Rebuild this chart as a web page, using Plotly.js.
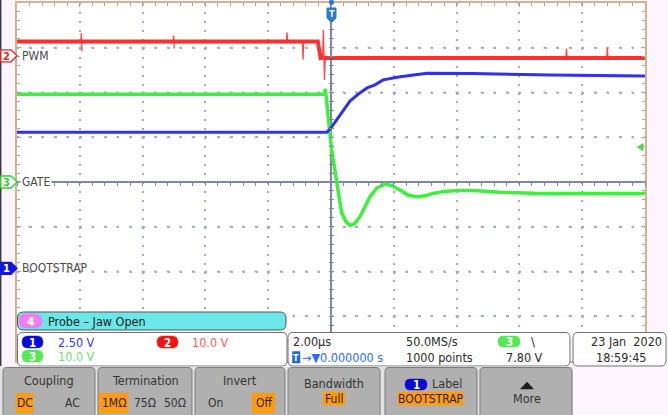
<!DOCTYPE html>
<html><head><meta charset="utf-8">
<script src="https://cdn.plot.ly/plotly-3.0.1.min.js"></script>
<style>html,body{margin:0;padding:0;background:#fdf5fd;} #chart{width:668px;height:415px;}</style>
</head><body><div id="chart"></div>
<script>
// ---- data (time in µs, values in volts) ----
const bootT = [-10, -0.13, 0.0, 0.29, 0.61, 0.92, 1.15, 1.4, 1.66, 2.2, 3.06, 4.5, 7.0, 10];
const bootV = [7.6, 7.6, 7.85, 8.6, 9.36, 9.8, 10.08, 10.25, 10.53, 10.7, 10.9, 10.88, 10.8, 10.75];

const pwmT = [-10, -0.42, -0.33, -0.26, -0.16, 10];
const pwmV = [3.2, 3.2, -0.5, -0.4, -0.5, -0.5];
// narrow glitches on the PWM trace (null separates each one)
const pwmSpikeT = [-7.97, -7.95, -7.93, null, -5.03, -5.01, -4.99, null, -1.42, -1.4, -1.38, null, -0.91, -0.89, -0.87, null, -0.27, -0.24, -0.21, -0.18, null, 7.48, 7.5, 7.52, null, 8.78, 8.8, 8.82];
const pwmSpikeV = [3.2, 5.1, 1.0, null, 3.2, 4.5, 1.6, null, 3.2, 5.2, 3.2, null, 3.2, -0.9, 3.2, null, -0.4, 5.8, -5.4, -0.5, null, -0.5, 1.6, -0.5, null, -0.5, 1.8, -0.5];

const gateT = [-10, -0.22, -0.18, 0.02, 0.18, 0.34, 0.48, 0.61, 0.76, 0.92, 1.24, 1.46, 1.72, 1.94, 2.2, 2.45, 2.74, 3.03, 3.25, 3.6, 4.0, 4.55, 5.38, 6.46, 10];
const gateV = [19.6, 19.6, 20.8, 7.2, 0.1, -6.9, -8.9, -9.7, -9.3, -7.8, -3.3, -1.35, -0.45, -0.8, -1.8, -2.9, -3.3, -3.0, -2.55, -2.1, -1.9, -1.9, -2.3, -2.5, -2.55];

const channelNames = ['BOOTSTRAP', 'PWM', 'GATE'];
const channelScales = [2.50, 10.0, 10.0];   // V/div
const timePerDiv = 2.00;                    // µs/div
const triggerLevel = 7.80;                  // V on channel 3

// ---- geometry ----
const L=17, R=23, T=3, B=54, W=668-L-R, H=415-T-B;
const fx = x => (x-L)/W, fy = y => 1-(y-T)/H;
const P = (x,y) => fx(x).toFixed(5)+','+fy(y).toFixed(5);
const divPx = H/8, cy = T+H/2;
const offDiv = [-1.93, 2.82, 0];          // ground offsets in divisions (ch1, ch2, ch3)
const rangeFor = i => [(-4-offDiv[i])*channelScales[i], (4-offDiv[i])*channelScales[i]];
const groundPx = i => cy - offDiv[i]*divPx;

const F = "'DejaVu Sans Condensed', 'Liberation Sans Narrow', 'DejaVu Sans', sans-serif";
const gridCol='#a4aac3', tickCol='#9aa1bd', centerCol='#7f87a8', frameCol='#d9b08c';
const hDash = '2px,10.56px', vDash = '2px,6.95px';

// graticule dots along the horizontal division lines (one dot per minor division)
const gridDotX = [], gridDotY = [];
for(let k=-3;k<=3;k++){ if(k===0) continue;
  for(let j=0;j<=50;j++){ gridDotX.push(-5*timePerDiv + j*timePerDiv/5); gridDotY.push(k*channelScales[2]); }
}

function rr(x0,y0,x1,y1,r,topOnly){
  if(topOnly) return `M${P(x0,y1)} L${P(x0,y0+r)} Q${P(x0,y0)} ${P(x0+r,y0)} L${P(x1-r,y0)} Q${P(x1,y0)} ${P(x1,y0+r)} L${P(x1,y1)} Z`;
  return `M${P(x0+r,y0)} L${P(x1-r,y0)} Q${P(x1,y0)} ${P(x1,y0+r)} L${P(x1,y1-r)} Q${P(x1,y1)} ${P(x1-r,y1)} L${P(x0+r,y1)} Q${P(x0,y1)} ${P(x0,y1-r)} L${P(x0,y0+r)} Q${P(x0,y0)} ${P(x0+r,y0)} Z`;
}
function shp(path, fill, line, lw){ return {type:'path', xref:'paper', yref:'paper', path, fillcolor:fill, line:{color:line||fill, width: lw===undefined?1:lw}, layer:'above'}; }
function ann(text, x, y, o){ o=o||{}; return {xref:'paper', yref:'paper', x:fx(x), y:fy(y), text, showarrow:false,
  xanchor:o.anchor||'left', yanchor:'middle', bgcolor:o.bg||'rgba(0,0,0,0)', borderpad:o.pad||0,
  font:{family:F, size:o.size||12, color:o.color||'#2a2a2a', weight:o.weight||'normal'}}; }

const shapes=[], annotations=[];
shapes.push({type:'line', xref:'paper', yref:'paper', x0:fx(0.7), x1:fx(0.7), y0:fy(0), y1:fy(366), line:{color:'#3a3a3a', width:1.5}, layer:'above'});

const mk = [{i:1, num:'2', fill:'#ffffff', line:'#ee2020', tc:'#ee2020'},
            {i:2, num:'3', fill:'#ffffff', line:'#33cc33', tc:'#33cc33'},
            {i:0, num:'1', fill:'#1414e0', line:'#1414e0', tc:'#ffffff'}];
mk.forEach(m=>{
  const g = groundPx(m.i);
  shapes.push(shp(`M${P(0.8,g-6)} L${P(11,g-6)} L${P(17,g)} L${P(11,g+6)} L${P(0.8,g+6)} Z`, m.fill, m.line, 1.3));
  annotations.push(ann(m.num, 6.5, g+0.5, {anchor:'center', color:m.tc, size:11, weight:'bold'}));
  annotations.push(ann(channelNames[m.i], 19.5, g, {color:'#4a4a4a', size:12, bg: m.i===2?'#ffffff':'rgba(0,0,0,0)', pad:1}));
});

shapes.push({type:'circle', xref:'paper', yref:'paper', x0:fx(329.3), x1:fx(333.7), y0:fy(0), y1:fy(4.4), fillcolor:'#2a78d8', line:{color:'#2a78d8', width:1}, layer:'above'});
shapes.push(shp(`M${P(327,8)} L${P(336,8)} L${P(336,18)} L${P(331.5,22.5)} L${P(327,18)} Z`, '#2a78d8', '#2a78d8', 1));
annotations.push(ann('T', 331.5, 14, {anchor:'center', color:'#ffffff', size:9, weight:'bold'}));

const trigPx = cy - (triggerLevel/channelScales[2])*divPx;
shapes.push(shp(`M${P(637.5,trigPx)} L${P(643,trigPx-3.5)} L${P(643,trigPx+3.5)} Z`, '#44dd44', '#44dd44', 1));

shapes.push(shp(rr(17.5,312,286,330,6), '#6be7ea', '#555555', 1));
shapes.push(shp(rr(19,314,42,328,7), '#f27bf2', '#f27bf2', 0.5));
annotations.push(ann('4', 30.5, 321.5, {anchor:'center', color:'#ffffff', size:12, weight:'bold'}));
annotations.push(ann('Probe – Jaw Open', 47, 321.5, {color:'#222222', size:12.5}));

shapes.push(shp(rr(17.5,332.5,287,366,5), '#ffffff', '#707070', 1));
shapes.push(shp(rr(22,336,43,348,6), '#0a0ad8', '#0a0ad8', 0.5));
annotations.push(ann('1', 32.5, 342.5, {anchor:'center', color:'#ffffff', size:11.5, weight:'bold'}));
annotations.push(ann(channelScales[0].toFixed(2)+' V', 57, 342, {color:'#3434ff', size:12.5}));
shapes.push(shp(rr(157,336,178,348,6), '#ee1515', '#ee1515', 0.5));
annotations.push(ann('2', 167.5, 342.5, {anchor:'center', color:'#ffffff', size:11.5, weight:'bold'}));
annotations.push(ann(channelScales[1].toFixed(1)+' V', 191, 342, {color:'#ff5a5a', size:12.5}));
shapes.push(shp(rr(22,350,43,362,6), '#55e855', '#55e855', 0.5));
annotations.push(ann('3', 32.5, 356.5, {anchor:'center', color:'#ffffff', size:11.5, weight:'bold'}));
annotations.push(ann(channelScales[2].toFixed(1)+' V', 57, 356, {color:'#70e070', size:12.5}));

shapes.push(shp(rr(288,332.5,570,366,5), '#ffffff', '#707070', 1));
annotations.push(ann(timePerDiv.toFixed(2)+'µs', 292, 341, {size:12.5}));
shapes.push(shp(`M${P(292.5,351.5)} L${P(300,351.5)} L${P(300,363)} L${P(292.5,363)} Z`, '#1f66e0', '#1f66e0', 0.5));
annotations.push(ann('T', 296.2, 357.5, {anchor:'center', color:'#ffffff', size:9, weight:'bold'}));
annotations.push(ann('→▼0.000000 s', 300.5, 357.5, {color:'#2a6ef0', size:12.5}));
annotations.push(ann('50.0MS/s', 405, 341, {size:12.5}));
annotations.push(ann('1000 points', 405, 357.5, {size:12.5}));
shapes.push(shp(rr(498,336,520,347,5.5), '#55e855', '#55e855', 0.5));
annotations.push(ann('3', 509, 341.5, {anchor:'center', color:'#ffffff', size:11.5, weight:'bold'}));
annotations.push(ann('\\', 530, 341, {size:13}));
annotations.push(ann(triggerLevel.toFixed(2)+' V', 505, 357.5, {size:12.5}));

shapes.push(shp(rr(573,332.5,666,366,5), '#ffffff', '#707070', 1));
annotations.push(ann('23 Jan  2020', 663, 341, {anchor:'right', size:12.5}));
annotations.push(ann('18:59:45', 595, 357.5, {size:12.5}));

shapes.push({type:'rect', xref:'paper', yref:'paper', x0:fx(0), x1:fx(573), y0:fy(366.5), y1:fy(416), fillcolor:'#e2e2e2', line:{width:0}, layer:'above'});
const btns=[[3,95],[98,192],[195,285],[288,380],[385,477],[480,572]];
btns.forEach(b=>shapes.push(shp(rr(b[0],367.5,b[1],418,4,true), '#b0b0b0', '#7c7c7c', 1)));
const orange='#fb9d14';
annotations.push(ann('Coupling', 49, 380, {anchor:'center', size:12.5, color:'#333333'}));
shapes.push(shp(`M${P(16,393)} L${P(33,393)} L${P(33,413)} L${P(16,413)} Z`, orange, orange, 0.5));
annotations.push(ann('DC', 24.5, 403, {anchor:'center', size:12, color:'#3a2000'}));
annotations.push(ann('AC', 72, 403, {anchor:'center', size:12, color:'#333333'}));
annotations.push(ann('Termination', 145, 380, {anchor:'center', size:12.5, color:'#333333'}));
shapes.push(shp(`M${P(99,393)} L${P(128,393)} L${P(128,413)} L${P(99,413)} Z`, orange, orange, 0.5));
annotations.push(ann('1MΩ', 113.5, 403, {anchor:'center', size:12, color:'#3a2000'}));
annotations.push(ann('75Ω', 145, 403, {anchor:'center', size:12, color:'#333333'}));
annotations.push(ann('50Ω', 175, 403, {anchor:'center', size:12, color:'#333333'}));
annotations.push(ann('Invert', 240, 380, {anchor:'center', size:12.5, color:'#333333'}));
annotations.push(ann('On', 215, 403, {anchor:'center', size:12, color:'#333333'}));
shapes.push(shp(`M${P(252,393)} L${P(275,393)} L${P(275,413)} L${P(252,413)} Z`, orange, orange, 0.5));
annotations.push(ann('Off', 263.5, 403, {anchor:'center', size:12, color:'#3a2000'}));
annotations.push(ann('Bandwidth', 334, 384, {anchor:'center', size:12.5, color:'#333333'}));
shapes.push(shp(`M${P(323,392)} L${P(345,392)} L${P(345,405)} L${P(323,405)} Z`, orange, orange, 0.5));
annotations.push(ann('Full', 334, 398.5, {anchor:'center', size:12, color:'#3a2000'}));
shapes.push(shp(rr(405,379,427,390,5.5), '#0a0ad8', '#0a0ad8', 0.5));
annotations.push(ann('1', 416, 384.8, {anchor:'center', color:'#ffffff', size:11.5, weight:'bold'}));
annotations.push(ann('Label', 431, 384, {size:12.5, color:'#333333'}));
shapes.push(shp(`M${P(398,392)} L${P(463,392)} L${P(463,405)} L${P(398,405)} Z`, orange, orange, 0.5));
annotations.push(ann(channelNames[0], 430.5, 398.5, {anchor:'center', size:12, color:'#3a2000'}));
shapes.push(shp(`M${P(520.5,389)} L${P(533.5,389)} L${P(527,382)} Z`, '#1e1e1e', '#1e1e1e', 0.5));
annotations.push(ann('More', 527, 398, {anchor:'center', size:12.5, color:'#333333'}));

const traces = [
  {x:gridDotX, y:gridDotY, xaxis:'x', yaxis:'y', mode:'markers', marker:{symbol:'square', size:2, color:gridCol, line:{width:0}}, hoverinfo:'skip', cliponaxis:false},
  {x:gateT, y:gateV, xaxis:'x', yaxis:'y', mode:'lines', line:{color:'#3cf03c', width:3.5}, hoverinfo:'skip'},
  {x:bootT, y:bootV, xaxis:'x', yaxis:'y3', mode:'lines', line:{color:'#3030f0', width:3}, hoverinfo:'skip'},
  {x:pwmSpikeT, y:pwmSpikeV, xaxis:'x', yaxis:'y2', mode:'lines', connectgaps:false, line:{color:'#ff4848', width:1.3}, hoverinfo:'skip'},
  {x:pwmT, y:pwmV, xaxis:'x', yaxis:'y2', mode:'lines', line:{color:'#ff3030', width:4}, hoverinfo:'skip'},
  {x:[], y:[], xaxis:'x2', yaxis:'y3', mode:'lines', hoverinfo:'skip'},
  {x:[], y:[], xaxis:'x', yaxis:'y4', mode:'lines', hoverinfo:'skip'}
];
const xr=[-5*timePerDiv, 5*timePerDiv];
const layout = {
  width:668, height:415, margin:{l:L, r:R, t:T, b:B, pad:0},
  paper_bgcolor:'#fdf5fd', plot_bgcolor:'#ffffff', showlegend:false,
  xaxis:{range:xr, showticklabels:false, showgrid:true, gridcolor:gridCol, gridwidth:2, griddash:vDash,
    dtick:timePerDiv, tick0:0, ticks:'inside', ticklen:4, tickcolor:tickCol,
    minor:{dtick:timePerDiv/5, ticks:'inside', ticklen:3, tickcolor:tickCol, showgrid:false},
    zeroline:true, zerolinecolor:centerCol, zerolinewidth:1.5, showline:true, linecolor:frameCol, linewidth:2, mirror:'ticks', fixedrange:true},
  yaxis:{range:rangeFor(2), showticklabels:false, showgrid:true, gridcolor:gridCol, gridwidth:2, griddash:hDash,
    dtick:channelScales[2], tick0:0, ticks:'inside', ticklen:4, tickcolor:tickCol,
    minor:{dtick:channelScales[2]/5, ticks:'inside', ticklen:3, tickcolor:tickCol, showgrid:false},
    zeroline:true, zerolinecolor:centerCol, zerolinewidth:1.5, showline:true, linecolor:frameCol, linewidth:2, mirror:'ticks', fixedrange:true},
  yaxis2:{overlaying:'y', range:rangeFor(1), visible:false, fixedrange:true},
  yaxis3:{overlaying:'y', range:rangeFor(0), visible:false, fixedrange:true},
  xaxis2:{overlaying:'x', anchor:'free', position:0.5+2.5/H, side:'bottom', range:xr, dtick:timePerDiv/5, tick0:0,
    ticks:'outside', ticklen:5, tickcolor:centerCol, tickwidth:1, showticklabels:false, showgrid:false, zeroline:false, showline:false, fixedrange:true},
  yaxis4:{overlaying:'y', anchor:'free', position:0.5+2.5/W, side:'left', range:rangeFor(2), dtick:channelScales[2]/5, tick0:0,
    ticks:'outside', ticklen:5, tickcolor:centerCol, tickwidth:1, showticklabels:false, showgrid:false, zeroline:false, showline:false, fixedrange:true},
  shapes, annotations
};
Plotly.newPlot('chart', traces, layout, {displayModeBar:false, staticPlot:true});
</script></body></html>
